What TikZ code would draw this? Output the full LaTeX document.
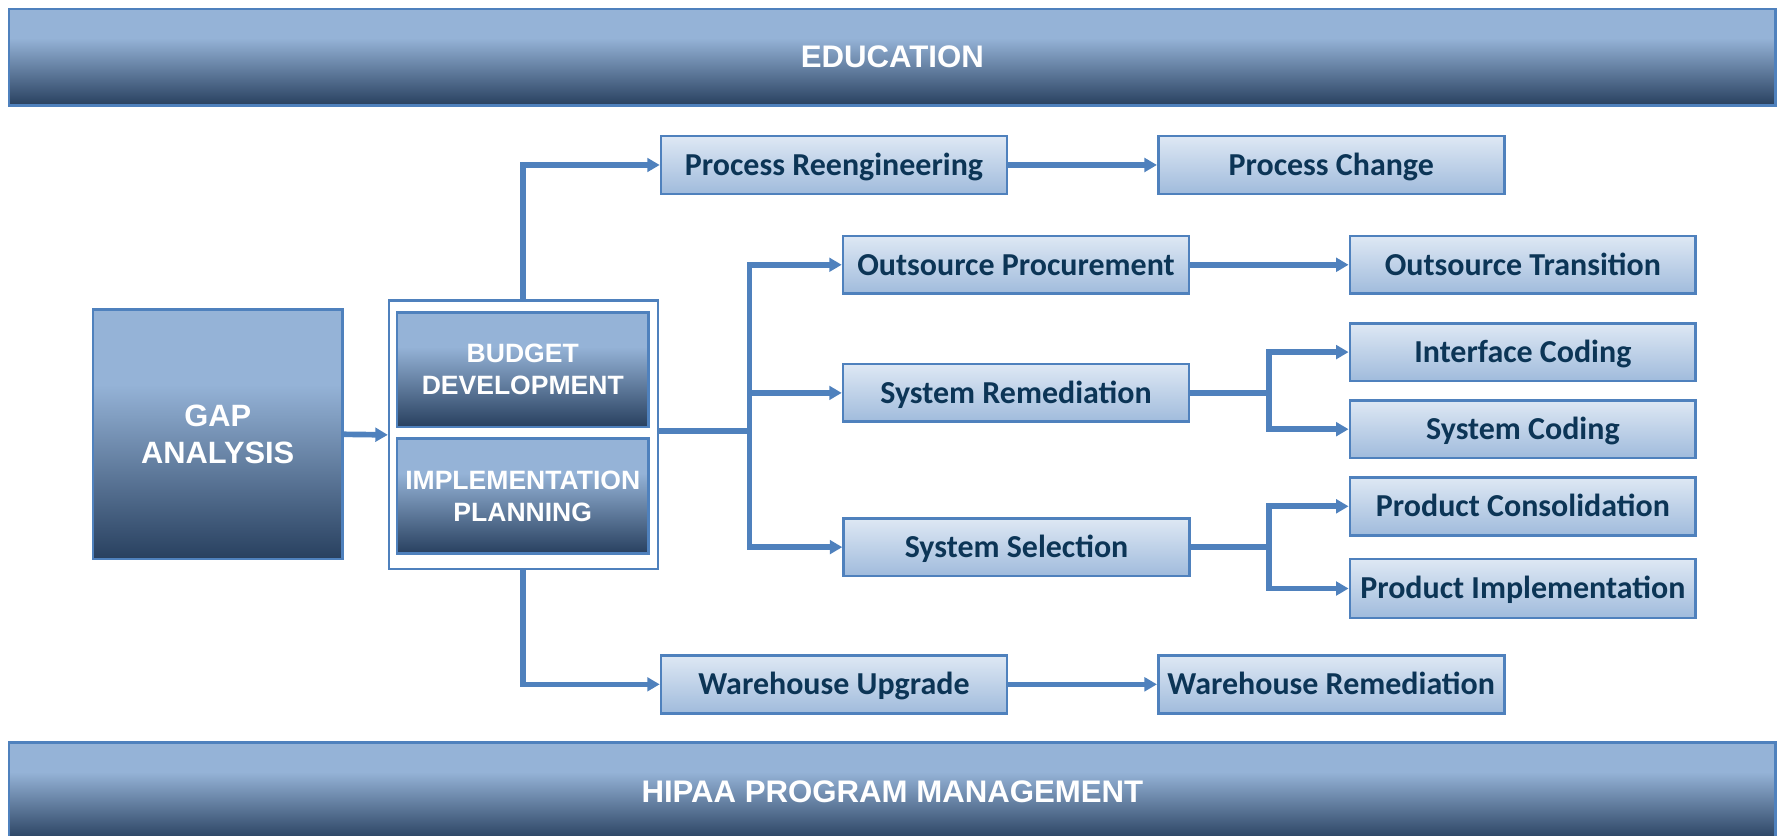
\documentclass[tikz,border=0pt]{standalone}
\usepackage{fontspec}
\setmainfont{Liberation Sans}
\newfontfamily\carlito{Carlito}
\usetikzlibrary{arrows.meta}
\definecolor{bblue}{HTML}{4F81BD}
\definecolor{lt}{HTML}{95B3D7}
\definecolor{dk}{HTML}{28405F}
\definecolor{boxtop}{HTML}{DEE8F4}
\definecolor{boxbot}{HTML}{A0BBDC}
\definecolor{navy}{HTML}{0C3556}
\pgfdeclareverticalshading{darkgrad}{100bp}{color(0bp)=(dk); color(25bp)=(dk); color(60bp)=(lt); color(100bp)=(lt)}
\begin{document}
\begin{tikzpicture}[x=1pt,y=-1pt,
  darkbox/.style={rectangle, draw=bblue, line width=2.4pt, shading=darkgrad,
    text=white, align=center, inner sep=0pt, font=\bfseries},
  bar/.style={darkbox, minimum width=1558pt, minimum height=85pt,
    font=\bfseries\fontsize{27.5}{33}\selectfont},
  lightbox/.style={rectangle, draw=bblue, line width=2.4pt, top color=boxtop,
    bottom color=boxbot, minimum width=305pt, minimum height=51pt, inner sep=0pt,
    text height=18.2pt, text depth=0pt,
    text=navy, font=\carlito\bfseries\fontsize{28.2}{32}\selectfont},
  innerbox/.style={darkbox, minimum width=222pt, minimum height=101pt,
    font=\bfseries\fontsize{23.4}{28.5}\selectfont},
  arr/.style={draw=bblue, line width=5pt, -{Triangle[length=11pt,width=12pt]}},
  link/.style={draw=bblue, line width=5pt}
]
\useasboundingbox (0,0) rectangle (1568,736.4);
% bars
\node[bar] (edu) at (787,50.5) {EDUCATION};
\node[bar, minimum height=86pt] (hipaa) at (787,698) {HIPAA PROGRAM MANAGEMENT};
% gap analysis
\node[darkbox, minimum width=220pt, minimum height=220pt,
  font=\bfseries\fontsize{27.2}{33}\selectfont] (gap) at (192,383) {GAP\\ANALYSIS};
% container
\node[rectangle, draw=bblue, line width=2pt, fill=white, minimum width=237pt,
  minimum height=237pt] (cont) at (461.5,383.5) {};
\node[innerbox] (bud) at (461,326) {BUDGET\\DEVELOPMENT};
\node[innerbox] (imp) at (461,437.5) {IMPLEMENTATION\\PLANNING};
% light boxes
\node[lightbox] (pr) at (735.5,145.5) {Process Reengineering};
\node[lightbox] (pc) at (1174,145.5) {Process Change};
\node[lightbox] (op) at (896,233.5) {Outsource Procurement};
\node[lightbox] (ot) at (1343,233.5) {Outsource Transition};
\node[lightbox] (sr) at (896,346.5) {System Remediation};
\node[lightbox] (ic) at (1343,310.5) {Interface Coding};
\node[lightbox] (sc) at (1343,378.5) {System Coding};
\node[lightbox] (ss) at (896.5,482.5) {System Selection};
\node[lightbox] (pcon) at (1343,446.5) {Product Consolidation};
\node[lightbox, minimum height=52pt] (pimp) at (1343,519) {Product Implementation};
\node[lightbox] (wu) at (735.5,603.5) {Warehouse Upgrade};
\node[lightbox] (wr) at (1174,603.5) {Warehouse Remediation};
% junctions
\coordinate (j1) at (661,380);
\coordinate (j2) at (1119,346.5);
\coordinate (j3) at (1119,482.5);
% connectors
\draw[arr] (gap.east) -- (cont.west);
\draw[arr] (cont.north) |- (pr.west);
\draw[arr] (cont.south) |- (wu.west);
\draw[arr] (pr.east) -- (pc.west);
\draw[arr] (wu.east) -- (wr.west);
\draw[arr] (op.east) -- (ot.west);
\draw[link] (cont.east |- j1) -- (j1);
\draw[arr] (j1) |- (op.west);
\draw[arr] (j1) |- (sr.west);
\draw[arr] (j1) |- (ss.west);
\draw[link] (sr.east) -- (j2);
\draw[arr] (j2) |- (ic.west);
\draw[arr] (j2) |- (sc.west);
\draw[link] (ss.east) -- (j3);
\draw[arr] (j3) |- (pcon.west);
\draw[arr] (j3) |- (pimp.west);
\end{tikzpicture}
\end{document}
